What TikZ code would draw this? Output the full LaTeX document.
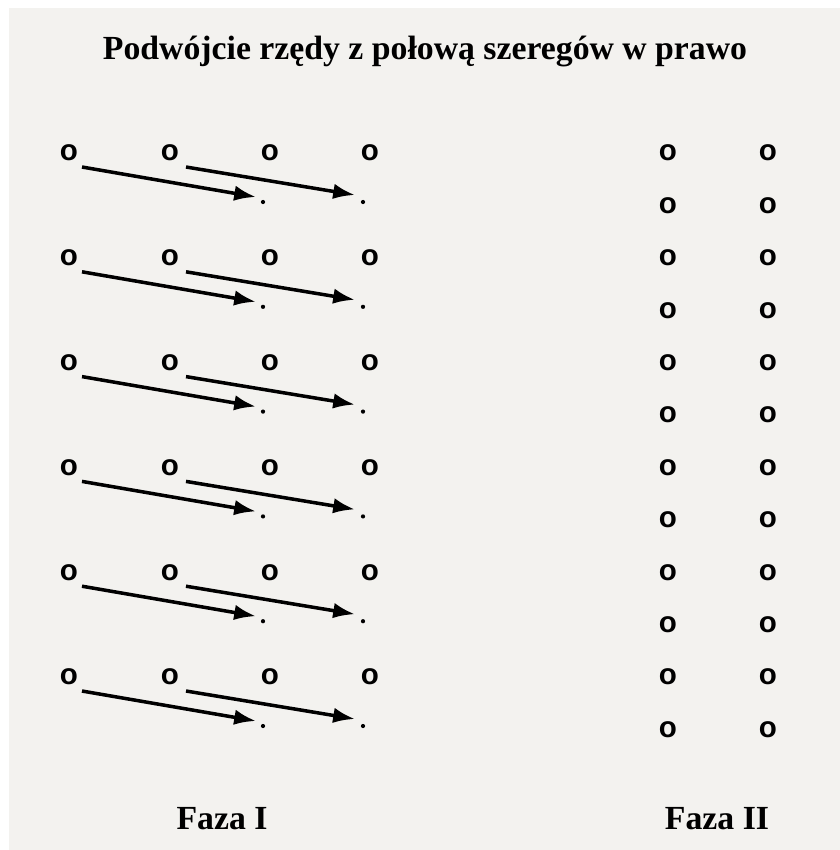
\documentclass[tikz,border=0pt]{standalone}
\usepackage{fontspec}
\setmainfont{Liberation Serif}
\newfontfamily\sansfont{Liberation Sans}
\usetikzlibrary{arrows.meta, positioning}

\definecolor{paper}{RGB}{243,242,239}

\begin{document}
\begin{tikzpicture}[
    x=0.025cm, y=-0.025cm,
    soldier/.style={inner sep=0pt, font=\sansfont\bfseries\fontsize{21}{21}\selectfont},
    spot/.style={circle, fill=black, inner sep=0pt, minimum size=3pt},
    heading/.style={anchor=base, inner sep=0pt, font=\fontsize{24}{24}\selectfont\bfseries},
    arrow/.style={-{Latex[length=15.5pt, width=11pt]}, line width=2.5pt}
]

% paper
\useasboundingbox (0,0) rectangle (840,850);
\fill[white] (0,0) rectangle (840,850);
\fill[paper] (9,8) rectangle (840,850);

% title
\node[heading] (title) at (425,59) {Podwójcie rzędy z połową szeregów w prawo};

% Faza I: six rows of four, dots behind the two right files
\foreach \r in {1,...,6} {
  \pgfmathsetmacro{\ry}{153+104.8*(\r-1)}
  \foreach \c/\cx in {1/69, 2/170, 3/270, 4/370}
    \node[soldier] (a-\r-\c) at (\cx,\ry) {o};
  \node[spot] (p-\r-1) at (263,\ry+49) {};
  \node[spot] (p-\r-2) at (363,\ry+49) {};
  \draw[arrow] ([shift={(13,14)}]a-\r-1.center) -- ([shift={(-7,-5)}]p-\r-1.center);
  \draw[arrow] ([shift={(16,14)}]a-\r-2.center) -- ([shift={(-8,-7)}]p-\r-2.center);
}

% Faza II: two files of twelve
\foreach \r in {1,...,12} {
  \pgfmathsetmacro{\ry}{153+52.4*(\r-1)}
  \node[soldier] (b-\r-1) at (668,\ry) {o};
  \node[soldier] (b-\r-2) at (768,\ry) {o};
}

% phase labels
\node[heading] (faza1) at (222,829) {Faza I};
\node[heading] (faza2) at (717,829) {Faza II};

\end{tikzpicture}
\end{document}
